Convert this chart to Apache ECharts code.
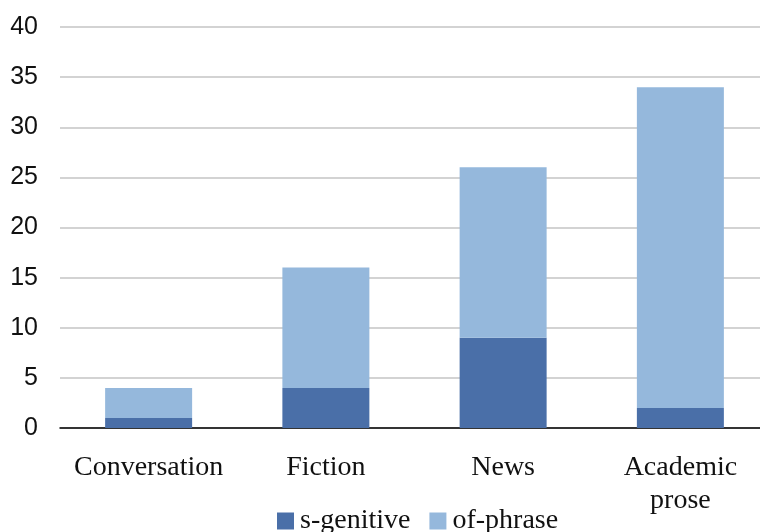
<!DOCTYPE html>
<html>
<head>
<meta charset="utf-8">
<script src="https://cdn.jsdelivr.net/npm/echarts@6/dist/echarts.min.js"></script>
<style>
  html, body { margin: 0; padding: 0; background: #fff; overflow: hidden; width: 760px; height: 532px; }
  #chart { width: 770px; height: 532px; }
</style>
</head>
<body>
<div id="chart"></div>
<script>
// Genitive forms by register
const categories = ['Conversation', 'Fiction', 'News', 'Academic\nprose'];
const sGenitive = [1, 4, 9, 2];
const ofPhrase = [3, 12, 17, 32];
const yTicks = [0, 5, 10, 15, 20, 25, 30, 35, 40];

const chart = echarts.init(document.getElementById('chart'), null, { renderer: 'canvas' });

chart.setOption({
  animation: false,
  backgroundColor: '#ffffff',
  grid: { left: 60, right: 1, top: 27, bottom: 104, containLabel: false },
  legend: {
    left: 277,
    top: 507,
    padding: 0,
    itemWidth: 17,
    itemHeight: 17,
    itemGap: 19,
    icon: 'rect',
    textStyle: { fontFamily: 'Liberation Serif', fontSize: 28, color: '#111', padding: [0, 0, 0, 1] },
    data: ['s-genitive', 'of-phrase']
  },
  xAxis: {
    type: 'category',
    data: categories,
    axisLine: { lineStyle: { color: '#000', width: 1.5 } },
    axisTick: { show: false },
    axisLabel: {
      interval: 0,
      fontFamily: 'Liberation Serif',
      fontSize: 28,
      color: '#111',
      margin: 23,
      lineHeight: 33
    }
  },
  yAxis: {
    type: 'value',
    min: yTicks[0],
    max: yTicks[yTicks.length - 1],
    interval: 5,
    axisLine: { show: false },
    axisTick: { show: false },
    splitLine: { lineStyle: { color: '#c4c4c4', width: 1.5 } },
    axisLabel: {
      fontFamily: 'Liberation Sans',
      fontSize: 25,
      color: '#111',
      margin: 22
    }
  },
  series: [
    {
      name: 's-genitive',
      type: 'bar',
      stack: 'total',
      barWidth: 87,
      data: sGenitive,
      itemStyle: { color: '#4a6fa8' }
    },
    {
      name: 'of-phrase',
      type: 'bar',
      stack: 'total',
      barWidth: 87,
      data: ofPhrase,
      itemStyle: { color: '#95b8dc' }
    }
  ]
});
</script>
</body>
</html>
